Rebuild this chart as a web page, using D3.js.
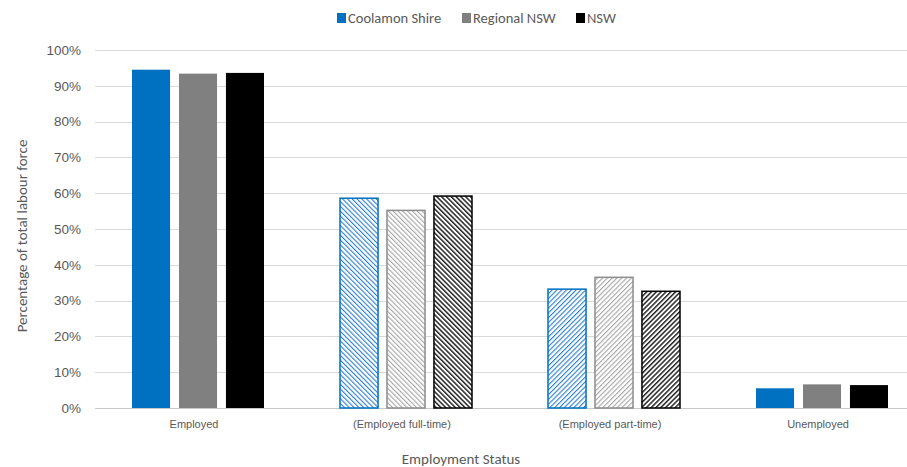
<!DOCTYPE html>
<html>
<head>
<meta charset="utf-8">
<script src="https://cdn.jsdelivr.net/npm/d3@7"></script>
<style>
  html, body { margin: 0; padding: 0; background: #fff; }
  svg { display: block; font-family: Carlito, Calibri, Lato, "Open Sans", sans-serif; }
</style>
</head>
<body>
<svg id="chart" width="907" height="467"></svg>
<script>
// Employment status shares, percent of total labour force
const categories = ["Employed", "(Employed full-time)", "(Employed part-time)", "Unemployed"];
const seriesNames = ["Coolamon Shire", "Regional NSW", "NSW"];
const coolamon = [94.5, 58.6, 33.2, 5.5];
const regional = [93.4, 55.2, 36.5, 6.6];
const nsw = [93.6, 59.2, 32.6, 6.4];
const yTicks = [0, 10, 20, 30, 40, 50, 60, 70, 80, 90, 100];

const seriesValues = [coolamon, regional, nsw];
const colors = ["#0070C0", "#808080", "#000000"];
const hatchColors = ["#2a7fcc", "#a6a6a6", "#262626"];
// fill style per category: solid, back-diagonal hatch, forward-diagonal hatch, solid
const fillStyle = ["solid", "back", "fwd", "solid"];

const svg = d3.select("#chart");
const W = 907, H = 467;
const plot = { left: 95, right: 926, top: 50, bottom: 408 };

const y = d3.scaleLinear().domain([0, 100]).range([plot.bottom, plot.top]);
const x0 = d3.scaleBand().domain(categories).range([plot.left - 1, plot.right]).paddingInner(0).paddingOuter(0);
const groupW = 132;
const x1 = d3.scaleBand().domain(seriesNames).range([0, groupW]).paddingInner(0.19).paddingOuter(0);

// hatch patterns
const defs = svg.append("defs");
seriesNames.forEach((s, i) => {
  ["back", "fwd"].forEach(dir => {
    const p = defs.append("pattern")
      .attr("id", `hatch-${dir}-${i}`)
      .attr("patternUnits", "userSpaceOnUse")
      .attr("width", 3.4).attr("height", 3.4)
      .attr("patternTransform", dir === "back" ? "rotate(-45)" : "rotate(45)");
    p.append("rect").attr("width", 3.4).attr("height", 3.4).attr("fill", "#fff");
    p.append("rect").attr("x", 0).attr("y", 0).attr("width", i === 2 ? 1.5 : 1.1).attr("height", 3.4)
      .attr("fill", hatchColors[i]);
  });
});

// gridlines
svg.append("g")
  .selectAll("line")
  .data(yTicks)
  .join("line")
  .attr("x1", plot.left).attr("x2", W)
  .attr("y1", d => Math.round(y(d)) + 0.5).attr("y2", d => Math.round(y(d)) + 0.5)
  .attr("stroke", d => d === 0 ? "#c8c8c8" : "#d9d9d9")
  .attr("stroke-width", 1);

// y axis labels
const yAxis = d3.axisLeft(y).tickValues(yTicks).tickFormat(d => d + "%").tickSize(0).tickPadding(0);
const gy = svg.append("g").attr("transform", `translate(81,0)`).call(yAxis);
gy.select(".domain").remove();
gy.selectAll("text").attr("fill", "#595959").attr("font-size", 13.5).attr("font-family", null);

// bars
const groups = svg.append("g")
  .selectAll("g")
  .data(categories)
  .join("g")
  .attr("transform", d => `translate(${x0(d) + (x0.bandwidth() - groupW) / 2},0)`);

groups.selectAll("rect")
  .data((c, ci) => seriesNames.map((s, si) => ({ c, ci, s, si, v: seriesValues[si][ci] })))
  .join("rect")
  .attr("x", d => x1(d.s))
  .attr("width", x1.bandwidth())
  .attr("y", d => y(d.v))
  .attr("height", d => y(0) - y(d.v))
  .attr("fill", d => fillStyle[d.ci] === "solid" ? colors[d.si] : `url(#hatch-${fillStyle[d.ci]}-${d.si})`)
  .attr("stroke", d => fillStyle[d.ci] === "solid" ? "none" : (d.si === 1 ? "#8c8c8c" : colors[d.si]))
  .attr("stroke-width", 1.5);

// category labels
const xAxis = d3.axisBottom(x0).tickSize(0).tickPadding(0);
const gx = svg.append("g").attr("transform", `translate(-4,428)`).call(xAxis);
gx.select(".domain").remove();
gx.selectAll("text").attr("fill", "#595959").attr("font-size", 11).attr("font-family", null).attr("dy", "0");

// axis titles
svg.append("text")
  .attr("x", 461).attr("y", 464)
  .attr("text-anchor", "middle")
  .attr("fill", "#595959").attr("font-size", 15)
  .text("Employment Status");

svg.append("text")
  .attr("transform", "translate(27,236) rotate(-90)")
  .attr("text-anchor", "middle")
  .attr("fill", "#595959").attr("font-size", 15)
  .text("Percentage of total labour force");

// legend
const legendX = [337, 462, 576];
const legend = svg.append("g")
  .selectAll("g")
  .data(seriesNames)
  .join("g")
  .attr("transform", (d, i) => `translate(${legendX[i]},13)`);
legend.append("rect").attr("width", 9).attr("height", 10).attr("fill", (d, i) => colors[i]);
legend.append("text").attr("x", 11).attr("y", 10)
  .attr("fill", "#595959").attr("font-size", 14.5)
  .text(d => d);
</script>
</body>
</html>
